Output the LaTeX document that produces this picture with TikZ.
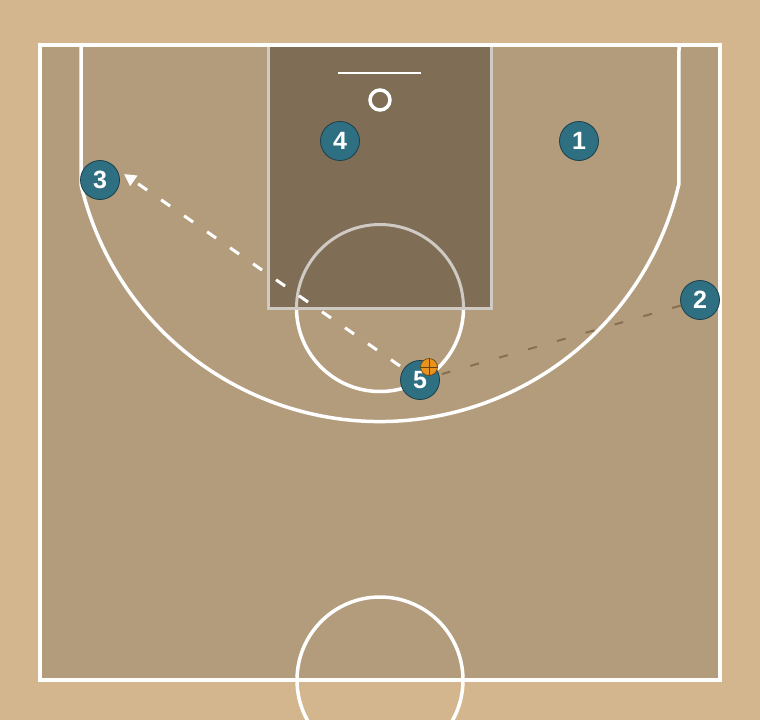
\documentclass[tikz,border=0pt]{standalone}
\usepackage{fontspec}
\setsansfont{Liberation Sans}
\usetikzlibrary{arrows.meta}
\definecolor{bgtan}{HTML}{D3B68E}
\definecolor{courtc}{HTML}{B39C7C}
\definecolor{lanec}{HTML}{7F6D55}
\definecolor{teal}{HTML}{2F6F82}
\definecolor{tealdark}{HTML}{1B3F4A}
\definecolor{lanegrey}{HTML}{CFCAC4}
\definecolor{dribc}{HTML}{86704F}
\definecolor{ballc}{HTML}{E8931E}
\tikzset{
  courtline/.style={draw=white, line width=3.5pt},
  player/.style={circle, fill=teal, draw=tealdark, line width=0.8pt, minimum size=39pt, inner sep=0pt, text=white, font=\sffamily\bfseries\fontsize{25}{25}\selectfont},
  pass/.style={draw=white, line width=3pt, dash pattern=on 11pt off 17pt, -{Triangle[length=12pt,width=12pt]}},
  dribble/.style={draw=dribc, line width=2pt, dash pattern=on 9pt off 21pt}
}
\begin{document}
\begin{tikzpicture}[x=1pt,y=-1pt]
\useasboundingbox (0,0) rectangle (760,720);
\fill[bgtan] (0,0) rectangle (760,720);
% court
\fill[courtc] (40,45) rectangle (720,680);
% center circle
\draw[courtline] (380,680) circle (83);
% free-throw circle lower half
\draw[courtline] (296.5,308) arc (180:0:83.5);
% lane
\fill[lanec] (268,45) rectangle (491,308);
\draw[lanegrey, line width=3pt] (296.5,308) arc (-180:0:83.5);
\draw[lanegrey, line width=3pt] (268,45) rectangle (491,308);
% court border
\draw[courtline] (40,45) rectangle (720,680);
% three-point line
\draw[courtline] (81,45) -- (81,184.6) arc[start angle=166.8, end angle=13.2, radius=307] -- (679,45);
% backboard and hoop
\draw[white, line width=2pt] (338,73) -- (421,73);
\draw[white, line width=3.5pt] (380,100) circle (10);
% players
\node[player] (p1) at (579,141) {1};
\node[player] (p2) at (700,300) {2};
\node[player] (p3) at (100,180) {3};
\node[player] (p4) at (340,141) {4};
\node[player] (p5) at (420,380) {5};
% ball
\node[circle, fill=ballc, draw=black!60!ballc, line width=0.6pt, minimum size=17pt, inner sep=0pt] (ball) at (429,367) {};
\begin{scope}
\clip (429,367) circle (8.5);
\draw[black!55!ballc, line width=0.7pt] (420,367) -- (438,367) (429,358) -- (429,376);
\draw[black!55!ballc, line width=0.7pt] (423,359) arc (150:210:16) (435,359) arc (30:-30:16);
\end{scope}
% pass 5 -> 3
\coordinate (passstart) at (400,366);
\coordinate (passend) at (124,174);
\draw[pass] (passstart) -- (passend);
% dribble line
\coordinate (dstart) at (442,374);
\draw[dribble] (p2) -- (dstart);
\end{tikzpicture}
\end{document}
